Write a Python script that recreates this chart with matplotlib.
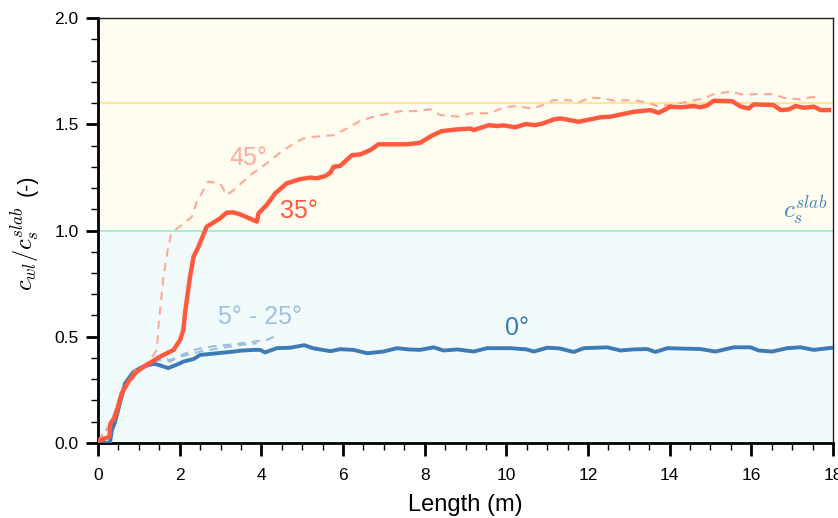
import matplotlib
matplotlib.use('Agg')
import matplotlib.pyplot as plt
from matplotlib.ticker import MultipleLocator

plt.rcParams['font.family'] = ['Liberation Sans', 'DejaVu Sans']
plt.rcParams['mathtext.fontset'] = 'cm'

# 0 deg (solid blue)
x_0 = [0, 0.29, 0.34, 0.42, 0.54, 0.66, 0.87, 1.11, 1.36, 1.44, 1.72, 2.01, 2.09, 2.34,
       2.5, 2.91, 3.32, 3.48, 3.81, 3.97, 4.09, 4.38, 4.7, 5.05, 5.28, 5.69, 5.93, 6.26,
       6.59, 6.99, 7.32, 7.6, 7.89, 8.22, 8.46, 8.8, 9.2, 9.53, 10.1, 10.5, 10.67, 11.0,
       11.3, 11.65, 11.9, 12.47, 12.8, 13.1, 13.45, 13.65, 13.94, 14.3, 14.75, 15.12,
       15.57, 15.98, 16.18, 16.51, 16.88, 17.2, 17.53, 17.98]
y_0 = [0, 0, 0.06, 0.10, 0.19, 0.28, 0.335, 0.36, 0.372, 0.37, 0.352, 0.375, 0.383, 0.395,
       0.414, 0.422, 0.43, 0.434, 0.438, 0.438, 0.426, 0.446, 0.448, 0.46, 0.445, 0.432,
       0.441, 0.438, 0.422, 0.43, 0.446, 0.44, 0.438, 0.45, 0.435, 0.44, 0.43, 0.446,
       0.446, 0.44, 0.43, 0.448, 0.445, 0.428, 0.446, 0.45, 0.435, 0.44, 0.442, 0.428,
       0.446, 0.444, 0.442, 0.43, 0.45, 0.45, 0.435, 0.43, 0.446, 0.45, 0.438, 0.448]

# 35 deg (solid red)
x_35 = [0, 0.16, 0.28, 0.30, 0.42, 0.58, 0.75, 0.95, 1.19, 1.52, 1.85, 2.01, 2.09, 2.13,
        2.25, 2.34, 2.46, 2.66, 2.99, 3.15, 3.32, 3.48, 3.89, 3.93, 4.13, 4.34, 4.62,
        4.95, 5.2, 5.36, 5.56, 5.69, 5.77, 5.93, 6.22, 6.42, 6.67, 6.87, 7.56, 7.89,
        8.18, 8.42, 8.79, 9.12, 9.2, 9.57, 9.77, 9.93, 10.22, 10.47, 10.71, 10.91,
        11.16, 11.32, 11.77, 12.3, 12.55, 13.12, 13.53, 13.73, 14.02, 14.26, 14.59,
        14.75, 14.92, 15.08, 15.53, 15.74, 15.94, 16.06, 16.54, 16.72, 16.92, 17.08,
        17.29, 17.53, 17.7, 17.9]
y_35 = [0.01, 0.02, 0.03, 0.09, 0.124, 0.234, 0.29, 0.336, 0.367, 0.406, 0.438, 0.485,
        0.532, 0.61, 0.78, 0.877, 0.924, 1.018, 1.057, 1.084, 1.085, 1.076, 1.042, 1.081,
        1.12, 1.175, 1.222, 1.242, 1.249, 1.246, 1.256, 1.272, 1.30, 1.304, 1.355, 1.358,
        1.379, 1.406, 1.406, 1.413, 1.447, 1.468, 1.476, 1.48, 1.473, 1.496, 1.492,
        1.495, 1.486, 1.501, 1.496, 1.505, 1.523, 1.528, 1.512, 1.533, 1.536, 1.559,
        1.567, 1.554, 1.583, 1.58, 1.586, 1.58, 1.589, 1.611, 1.609, 1.583, 1.575,
        1.594, 1.591, 1.567, 1.57, 1.586, 1.578, 1.583, 1.567, 1.567]

# 45 deg (dashed light red)
x_45 = [0, 0.3, 0.6, 0.9, 1.2, 1.38, 1.44, 1.48, 1.6, 1.72, 1.8, 2.05, 2.3, 2.42, 2.7,
        2.99, 3.15, 3.32, 3.73, 4.13, 4.54, 5.03, 5.28, 5.77, 6.09, 6.42, 6.75, 7.4,
        7.73, 8.14, 8.38, 8.83, 9.12, 9.61, 9.93, 10.26, 10.59, 10.83, 11.16, 11.49,
        11.81, 12.02, 12.38, 12.63, 13.12, 13.44, 13.69, 14.02, 14.43, 14.85, 15.08,
        15.49, 15.82, 16.06, 16.54, 16.79, 17.2, 17.45, 17.65]
y_45 = [0.01, 0.09, 0.24, 0.34, 0.375, 0.42, 0.44, 0.547, 0.78, 0.924, 0.99, 1.026,
        1.065, 1.136, 1.23, 1.222, 1.167, 1.19, 1.261, 1.316, 1.379, 1.434, 1.441,
        1.449, 1.48, 1.516, 1.536, 1.562, 1.562, 1.57, 1.544, 1.536, 1.552, 1.552,
        1.58, 1.586, 1.575, 1.586, 1.614, 1.614, 1.606, 1.625, 1.623, 1.611, 1.614,
        1.602, 1.586, 1.591, 1.606, 1.623, 1.642, 1.654, 1.638, 1.642, 1.642, 1.625,
        1.617, 1.627, 1.629]

# 5 deg - 25 deg (dashed light blue)
x_5 = [0, 0.3, 0.6, 0.9, 1.2, 1.52, 1.76, 2.34, 2.75, 3.15, 3.64, 4.13, 4.42]
y_5 = [0, 0.09, 0.24, 0.34, 0.375, 0.40, 0.39, 0.438, 0.453, 0.461, 0.472, 0.485, 0.508]
x_25 = [0, 0.3, 0.6, 0.9, 1.2, 1.52, 1.76, 2.01, 2.5, 2.99, 3.48, 3.89]
y_25 = [0, 0.09, 0.24, 0.34, 0.375, 0.39, 0.383, 0.406, 0.43, 0.446, 0.461, 0.469]

c_slab = 1.0
c_max = 1.6

blue = '#3d7bb6'
red = '#ff5a3d'

fig = plt.figure(figsize=(8.38, 5.18), dpi=100)
ax = fig.add_axes([0.117, 0.145, 0.877, 0.820])

# background regions
ax.axhspan(0, c_slab, color='#f2fbfb', zorder=0)
ax.axhspan(c_slab, 2.0, color='#fffcf0', zorder=0)
ax.axhline(c_slab, color='#a6ecdb', lw=1.5, zorder=1)
ax.axhline(c_max, color='#ffe795', lw=1.5, zorder=1)

ax.plot(x_5, y_5, color='#9cbfde', lw=1.5, dashes=(4, 3), zorder=2)
ax.plot(x_25, y_25, color='#9cbfde', lw=1.5, dashes=(4, 3), zorder=2)
ax.plot(x_0, y_0, color=blue, lw=2.8, zorder=3)
ax.plot(x_45, y_45, color='#ffa898', lw=1.5, dashes=(4, 3), zorder=4)
ax.plot(x_35, y_35, color=red, lw=3.2, zorder=5)

# labels
ax.text(3.68, 1.343, '45°', color='#ffab9e', fontsize=18, ha='center', va='center')
ax.text(4.93, 1.092, '35°', color=red, fontsize=18, ha='center', va='center')
ax.text(3.97, 0.595, '5° - 25°', color='#9fc0de', fontsize=18, ha='center', va='center')
ax.text(10.27, 0.54, '0°', color=blue, fontsize=18, ha='center', va='center')
ax.text(17.85, 1.012, r'$c_s^{slab}$', color='#4a86c0', fontsize=18,
        ha='right', va='bottom')

ax.set_xlim(0, 18)
ax.set_ylim(0, 2.0)
ax.xaxis.set_major_locator(MultipleLocator(2))
ax.xaxis.set_minor_locator(MultipleLocator(0.5))
ax.yaxis.set_major_locator(MultipleLocator(0.5))
ax.yaxis.set_minor_locator(MultipleLocator(0.1))
ax.yaxis.set_major_formatter(plt.FormatStrFormatter('%.1f'))

ax.tick_params(which='major', direction='out', length=9, width=2, labelsize=12.5,
               top=False, right=False)
ax.tick_params(axis='x', which='major', pad=9)
ax.tick_params(axis='y', which='major', pad=5)
ax.tick_params(which='minor', direction='out', length=5, width=1,
               top=False, right=False)
ax.spines['left'].set_linewidth(2)
ax.spines['bottom'].set_linewidth(2)
ax.spines['top'].set_linewidth(1)
ax.spines['right'].set_linewidth(1)
ax.spines['top'].set_color('#222222')
ax.spines['right'].set_color('#222222')

ax.set_xlabel('Length (m)', fontsize=17, labelpad=8)

# y label: larger math part plus unit
fig.text(25 / 838, 1 - 248.5 / 518, r'$c_{wl}/c_s^{slab}$', fontsize=17.5,
         rotation=90, ha='center', va='center')
fig.text(27 / 838, 1 - 185 / 518, '(-)', fontsize=15.5,
         rotation=90, ha='center', va='center')

fig.savefig('out.png', dpi=100, facecolor='white')
